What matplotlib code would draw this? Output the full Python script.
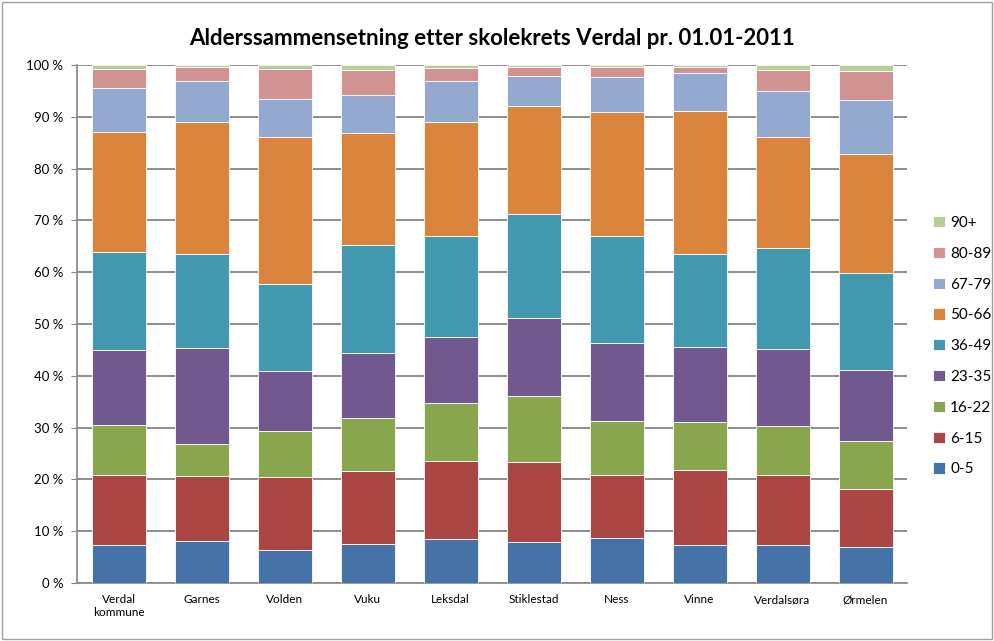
import matplotlib.pyplot as plt
from matplotlib.patches import Rectangle
import numpy as np

plt.rcParams['font.family'] = ['Lato', 'DejaVu Sans']

# skolekretser
categories = ['Verdal\nkommune', 'Garnes', 'Volden', 'Vuku', 'Leksdal',
              'Stiklestad', 'Ness', 'Vinne', 'Verdalsøra', 'Ørmelen']
age_groups = ['0-5', '6-15', '16-22', '23-35', '36-49', '50-66', '67-79', '80-89', '90+']

# percent share per age group
a_0_5 = [7.3, 8.2, 6.4, 7.5, 8.4, 7.9, 8.7, 7.3, 7.3, 6.9]
a_6_15 = [13.6, 12.5, 14.1, 14.1, 15.2, 15.5, 12.2, 14.6, 13.6, 11.3]
a_16_22 = [9.6, 6.1, 8.8, 10.3, 11.1, 12.7, 10.4, 9.2, 9.4, 9.2]
a_23_35 = [14.4, 18.5, 11.7, 12.6, 12.7, 15.0, 15.1, 14.4, 14.8, 13.8]
a_36_49 = [19.1, 18.3, 16.8, 20.7, 19.5, 20.2, 20.5, 18.1, 19.6, 18.7]
a_50_66 = [23.1, 25.5, 28.4, 21.7, 22.2, 20.8, 24.1, 27.6, 21.5, 22.9]
a_67_79 = [8.4, 7.9, 7.2, 7.4, 7.8, 5.7, 6.6, 7.2, 8.7, 10.4]
a_80_89 = [3.7, 2.6, 5.8, 4.7, 2.5, 1.9, 2.1, 1.3, 4.1, 5.6]
a_90 = [0.8, 0.4, 0.8, 1.0, 0.6, 0.3, 0.3, 0.3, 1.0, 1.2]

series = [a_0_5, a_6_15, a_16_22, a_23_35, a_36_49, a_50_66, a_67_79, a_80_89, a_90]
colors = ['#4572A7', '#AA4643', '#89A54E', '#71588F', '#4198AF',
          '#DB843D', '#93A9CF', '#D19392', '#B9CD96']

fig = plt.figure(figsize=(9.94, 6.41), dpi=100)
ax = fig.add_axes([0.0775, 0.0905, 0.835, 0.808])

x = np.arange(len(categories))
bottom = np.zeros(len(categories))
handles = []
for vals, col, lab in zip(series, colors, age_groups):
    b = ax.bar(x, vals, 0.65, bottom=bottom, color=col, label=lab,
               edgecolor='white', linewidth=0.6, zorder=3)
    handles.append(b)
    bottom += np.array(vals)

ax.set_xlim(-0.5, len(categories) - 0.5)
ax.set_ylim(0, 100)
ax.set_yticks(range(0, 101, 10))
ax.set_yticklabels([f'{v} %' for v in range(0, 101, 10)], fontsize=9.5)
ax.set_xticks(x)
ax.set_xticklabels(categories, fontsize=8.5)
ax.tick_params(axis='x', length=0, pad=8)
ax.tick_params(axis='y', length=4, color='#868686', pad=6)
ax.yaxis.grid(True, color='#8c8c8c', linewidth=1.4, zorder=0)
for s in ['top', 'right']:
    ax.spines[s].set_visible(False)
for s in ['left', 'bottom']:
    ax.spines[s].set_color('#868686')
    ax.spines[s].set_linewidth(1.2)

fig.text(0.495, 0.94, 'Alderssammensetning etter skolekrets Verdal pr. 01.01-2011',
         ha='center', va='center', fontsize=16, fontweight='bold')

leg = fig.legend(handles[::-1], age_groups[::-1], loc='center left',
                 bbox_to_anchor=(0.925, 0.46), frameon=False, fontsize=11,
                 handlelength=0.75, handleheight=0.75, handletextpad=0.35,
                 labelspacing=1.1)

fig.patches.append(Rectangle((0.002, 0.003), 0.996, 0.994, transform=fig.transFigure,
                             fill=False, edgecolor='#a0a0a0', linewidth=1))

fig.savefig('out.png', dpi=100)
